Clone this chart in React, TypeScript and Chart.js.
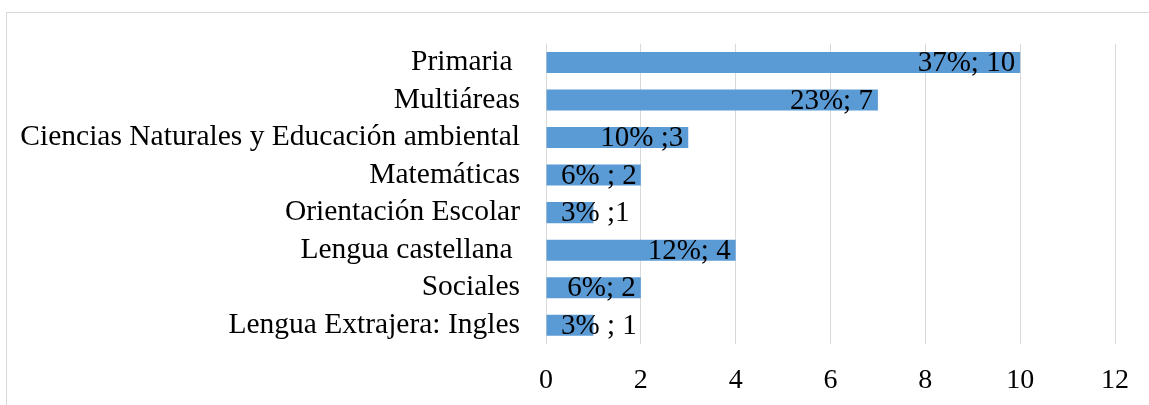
import React, { useEffect, useRef } from "react";
import { Chart, registerables } from "chart.js";

Chart.register(...registerables);

const categories = [
  "Primaria ",
  "Multiáreas",
  "Ciencias Naturales y Educación ambiental",
  "Matemáticas",
  "Orientación Escolar",
  "Lengua castellana ",
  "Sociales",
  "Lengua Extrajera: Ingles",
];
const counts = [10, 7, 3, 2, 1, 4, 2, 1];
const dataLabels = ["37%; 10", "23%; 7", "10% ;3", "6% ; 2", "3% ;1", "12%; 4", "6%; 2", "3% ; 1"];
const xTicks = [0, 2, 4, 6, 8, 10, 12];

const FONT = "'Liberation Serif', 'Times New Roman', serif";

const labelPlugin = {
  id: "barLabels",
  afterDatasetsDraw(chart: any) {
    const ctx = chart.ctx;
    const meta = chart.getDatasetMeta(0);
    const xScale = chart.scales.x;
    const base = xScale.getPixelForValue(0);
    ctx.save();
    ctx.font = `29px ${FONT}`;
    ctx.fillStyle = "#000";
    ctx.textBaseline = "middle";
    ctx.textAlign = "left";
    meta.data.forEach((bar: any, i: number) => {
      const text = dataLabels[i];
      const w = ctx.measureText(text).width;
      const x = Math.max(base + 15, bar.x - 5 - w);
      ctx.fillText(text, x, bar.y + 1);
    });
    ctx.restore();
  },
};

export default function App() {
  const ref = useRef<HTMLCanvasElement>(null);
  useEffect(() => {
    document.body.style.margin = "0";
    const chart = new Chart(ref.current!, {
      type: "bar",
      data: {
        labels: categories,
        datasets: [
          {
            data: counts,
            backgroundColor: "#5B9BD5",
            borderWidth: 0,
            categoryPercentage: 0.56,
            barPercentage: 1,
          },
        ],
      },
      options: {
        indexAxis: "y",
        animation: false,
        responsive: false,
        maintainAspectRatio: false,
        layout: { padding: { top: 41, right: 31, left: 0, bottom: 0 } },
        plugins: { legend: { display: false }, tooltip: { enabled: false } },
        scales: {
          x: {
            min: 0,
            max: 12,
            afterBuildTicks(axis: any) {
              axis.ticks = xTicks.map((v) => ({ value: v }));
            },
            afterFit(axis: any) {
              axis.height = 61;
            },
            grid: { color: "#d9d9d9", lineWidth: 1, drawTicks: false },
            border: { display: false },
            ticks: { color: "#000", font: { family: FONT, size: 28 }, padding: 20, autoSkip: false },
          },
          y: {
            afterFit(axis: any) {
              axis.width = 546;
            },
            grid: { display: false, drawTicks: false },
            border: { display: false },
            ticks: { color: "#000", font: { family: FONT, size: 29.5 }, padding: 26, autoSkip: false },
          },
        },
      },
      plugins: [labelPlugin],
    });
    return () => chart.destroy();
  }, []);
  return (
    <div style={{ position: "relative", width: 1149, height: 405, background: "#fff" }}>
      <div
        style={{
          position: "absolute",
          left: 6,
          top: 12,
          right: -2,
          bottom: -2,
          borderTop: "1px solid #d9d9d9",
          borderLeft: "1px solid #d9d9d9",
        }}
      />
      <canvas ref={ref} width={1149} height={405} style={{ position: "absolute", left: 0, top: 0 }} />
    </div>
  );
}
